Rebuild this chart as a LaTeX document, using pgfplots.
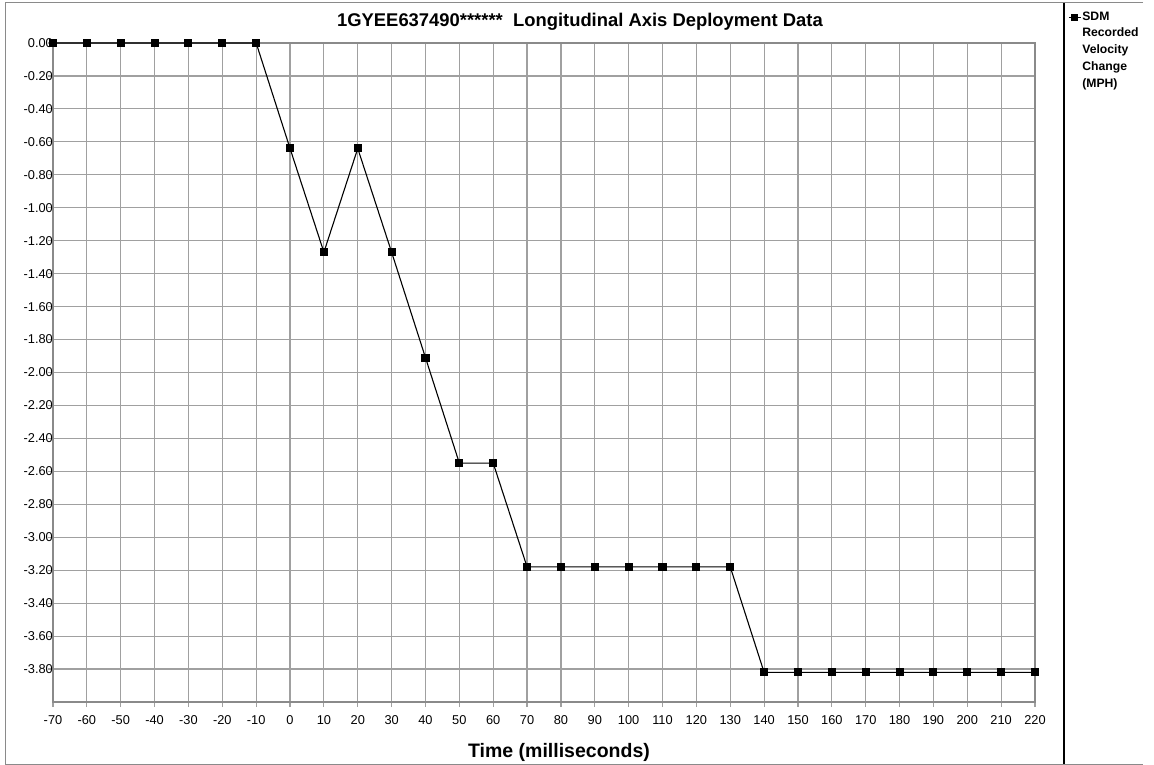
\documentclass[border=0pt]{standalone}
\usepackage{pgfplots}
\pgfplotsset{compat=1.18}
\usepackage{fontspec}
\setmainfont{Liberation Sans}
\definecolor{gridgray}{HTML}{A0A0A0}
\definecolor{framegray}{HTML}{8A8A8A}
\begin{document}
\begin{tikzpicture}[x=1pt,y=1pt]
\path[use as bounding box] (0,0) rectangle (1154,-765);
\begin{axis}[
  at={(53pt,-43pt)}, anchor=north west,
  scale only axis, width=982pt, height=659pt,
  xmin=-70, xmax=220, ymin=-4, ymax=0,
  xtick={-70,-60,...,220},
  ytick={0,-0.2,-0.4,-0.6,-0.8,-1,-1.2,-1.4,-1.6,-1.8,-2,-2.2,-2.4,-2.6,-2.8,-3,-3.2,-3.4,-3.6,-3.8},
  grid=major,
  grid style={gridgray, line width=1.2pt},
  axis line style={framegray, line width=1.2pt},
  tick style={gridgray, line width=1.2pt},
  tick align=outside, major tick length=5pt,
  xtick pos=bottom, ytick pos=left,
  /pgf/number format/assume math mode=true,
  yticklabel style={/pgf/number format/fixed, /pgf/number format/zerofill, /pgf/number format/precision=2, inner sep=0pt, xshift=5pt},
  xticklabel style={inner sep=0pt, yshift=-8pt},
  tick label style={font=\fontsize{12.8}{15}\selectfont},
  scaled y ticks=false,
  legend style={at={(1.0336,1.0521)}, anchor=north west, draw=none, fill=none,
    font=\bfseries\fontsize{12.2}{14}\selectfont, cells={anchor=west},
    nodes={text height=9pt, text depth=3pt, inner xsep=1pt, inner ysep=2.35pt},
    inner sep=0pt, row sep=0pt},
  legend image code/.code={\draw[line width=1.1pt, mark repeat=2,mark phase=2, mark size=3pt] plot coordinates {(0pt,0pt)(6pt,0pt)(12pt,0pt)};},
  clip=false,
]
\addplot[black, line width=1.1pt, mark=square*, mark size=3.5pt, mark options={solid}] coordinates {
(-70,0) (-60,0) (-50,0) (-40,0) (-30,0) (-20,0) (-10,0)
(0,-0.64) (10,-1.27) (20,-0.64) (30,-1.27) (40,-1.91) (50,-2.55) (60,-2.55)
(70,-3.18) (80,-3.18) (90,-3.18) (100,-3.18) (110,-3.18) (120,-3.18) (130,-3.18)
(140,-3.82) (150,-3.82) (160,-3.82) (170,-3.82) (180,-3.82) (190,-3.82) (200,-3.82) (210,-3.82) (220,-3.82)
};
\addlegendentry{SDM}
\addlegendimage{empty legend}\addlegendentry{Recorded}
\addlegendimage{empty legend}\addlegendentry{Velocity}
\addlegendimage{empty legend}\addlegendentry{Change}
\addlegendimage{empty legend}\addlegendentry{(MPH)}
\end{axis}
\node[font=\bfseries\fontsize{18.4}{22}\selectfont] at (580,-22) {1GYEE637490******\ \ Longitudinal Axis Deployment Data};
\node[font=\bfseries\fontsize{19.5}{22}\selectfont] at (559,-752) {Time (milliseconds)};
\draw[framegray, line width=1pt] (1143,-3) -- (5,-3) -- (5,-764) -- (1143,-764);
\draw[black, line width=1.5pt] (1064,-3) -- (1064,-764);
\end{tikzpicture}
\end{document}
